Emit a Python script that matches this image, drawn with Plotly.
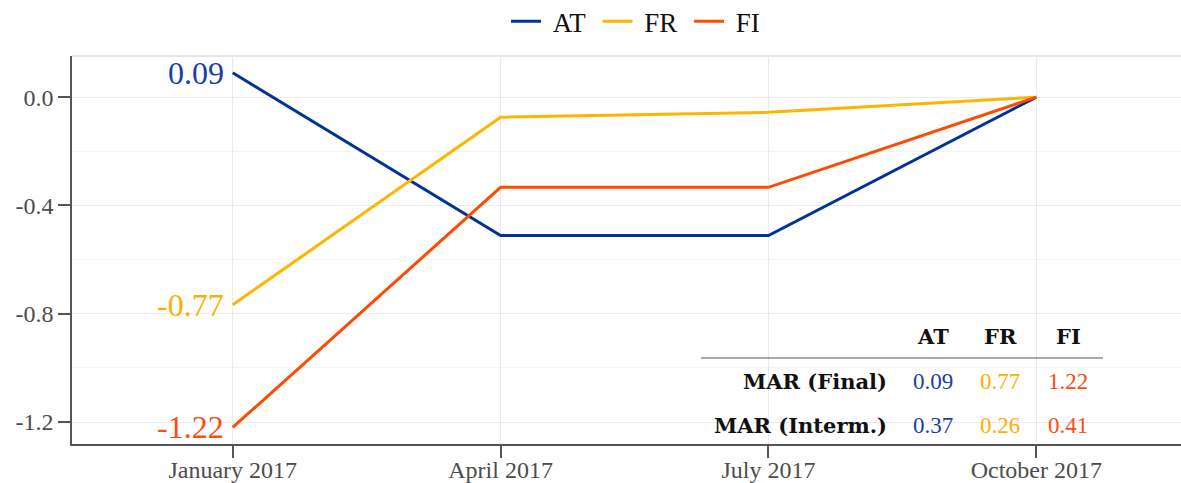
import plotly.graph_objects as go

categories = ["January 2017", "April 2017", "July 2017", "October 2017"]
series_names = ["AT", "FR", "FI"]
at_values = [0.09, -0.511, -0.511, 0.0]
fr_values = [-0.767, -0.074, -0.056, 0.0]
fi_values = [-1.22, -0.333, -0.333, 0.0]
start_labels = ["0.09", "-0.77", "-1.22"]
table_cols = ["AT", "FR", "FI"]
table_rows = ["MAR (Final)", "MAR (Interm.)"]
mar_final = ["0.09", "0.77", "1.22"]
mar_interm = ["0.37", "0.26", "0.41"]
y_ticks = [0.0, -0.4, -0.8, -1.2]
y_tick_text = ["0.0", "-0.4", "-0.8", "-1.2"]

colors = ["#003399", "#FFB400", "#FF4B00"]
text_colors = ["#1a3f9f", "#FFAE00", "#FF4B10"]
FONT = "Liberation Serif"
BOLD_FONT = "DejaVu Serif"

L, R, T, B = 72, 1181, 56, 444
x_idx = list(range(len(categories)))
fig = go.Figure()
for name, vals, col in zip(series_names, [at_values, fr_values, fi_values], colors):
    fig.add_trace(go.Scatter(x=x_idx, y=vals, mode="lines", name="\u00a0" + name + "\u00a0",
                             line=dict(color=col, width=3)))

# start labels
for vals, lab, col in zip([at_values, fr_values, fi_values], start_labels, text_colors):
    fig.add_annotation(x=x_idx[0], y=vals[0], text=lab, showarrow=False,
                       xanchor="right", yanchor="middle", xshift=-7,
                       font=dict(family=FONT, size=32, color=col))

def px_to_paper_x(px):
    return (px - L) / (R - L)
def px_to_paper_y(py):
    return (B - py) / (B - T)

# table
col_x = [933, 1000, 1068]
label_x = 889
hdr_y, r1_y, r2_y = 336, 381, 425

for cx, c in zip(col_x, table_cols):
    fig.add_annotation(xref="paper", yref="paper", x=px_to_paper_x(cx), y=px_to_paper_y(hdr_y),
                       text="<b>" + c + "</b>", showarrow=False, xanchor="center", yanchor="middle",
                       font=dict(family=BOLD_FONT, size=21, color="#111111"))
for row_lab, ry, vals in zip(table_rows, [r1_y, r2_y], [mar_final, mar_interm]):
    fig.add_annotation(xref="paper", yref="paper", x=px_to_paper_x(label_x), y=px_to_paper_y(ry),
                       text="<b>" + row_lab + "</b>", showarrow=False, xanchor="right", yanchor="middle",
                       font=dict(family=BOLD_FONT, size=21, color="#111111"))
    for cx, v, col in zip(col_x, vals, text_colors):
        fig.add_annotation(xref="paper", yref="paper", x=px_to_paper_x(cx), y=px_to_paper_y(ry),
                           text=v, showarrow=False, xanchor="center", yanchor="middle",
                           font=dict(family=FONT, size=23, color=col))

fig.add_shape(type="line", xref="paper", yref="paper",
              x0=px_to_paper_x(701), x1=px_to_paper_x(1103),
              y0=px_to_paper_y(358), y1=px_to_paper_y(358),
              line=dict(color="#555555", width=1.2))
# top border
fig.add_shape(type="line", xref="paper", yref="paper", x0=0, x1=1, y0=1, y1=1,
              line=dict(color="#d0d0d0", width=1.2), layer="below")

fig.update_layout(
    width=1181, height=483,
    margin=dict(l=L, r=1181 - R, t=T, b=483 - B, autoexpand=False),
    plot_bgcolor="white", paper_bgcolor="white",
    font=dict(family=FONT, color="#4d4d4d"),
    legend=dict(orientation="h", x=506 / 1181, xanchor="left", xref="container",
                y=0.955, yanchor="middle", yref="container",
                font=dict(family=FONT, size=27, color="#111111"),
                itemwidth=30, traceorder="normal"),
    showlegend=True,
)
fig.update_xaxes(range=[-0.6, 3.54], tickvals=x_idx, ticktext=categories, automargin=False,
                 showgrid=True, gridcolor="#ebebeb", gridwidth=1.2,
                 showline=True, linecolor="#555555", linewidth=1.5,
                 ticks="outside", ticklen=12, tickcolor="#555555", tickwidth=1.5,
                 ticklabelstandoff=-9,
                 tickfont=dict(family=FONT, size=24, color="#4d4d4d"), zeroline=False)
fig.update_yaxes(range=[-1.281, 0.152], tickvals=y_ticks, ticktext=y_tick_text, automargin=False,
                 showgrid=True, gridcolor="#ebebeb", gridwidth=1.2,
                 minor=dict(tickvals=[-0.2, -0.6, -1.0], showgrid=True, gridcolor="#f3f3f3", gridwidth=1),
                 showline=True, linecolor="#555555", linewidth=1.5,
                 ticks="outside", ticklen=12, tickcolor="#555555", tickwidth=1.5,
                 tickfont=dict(family=FONT, size=24, color="#4d4d4d"), zeroline=False)

fig.write_html("out.html", config={"displayModeBar": False},
               post_script="document.body.style.margin='0';document.body.style.overflow='hidden';")
